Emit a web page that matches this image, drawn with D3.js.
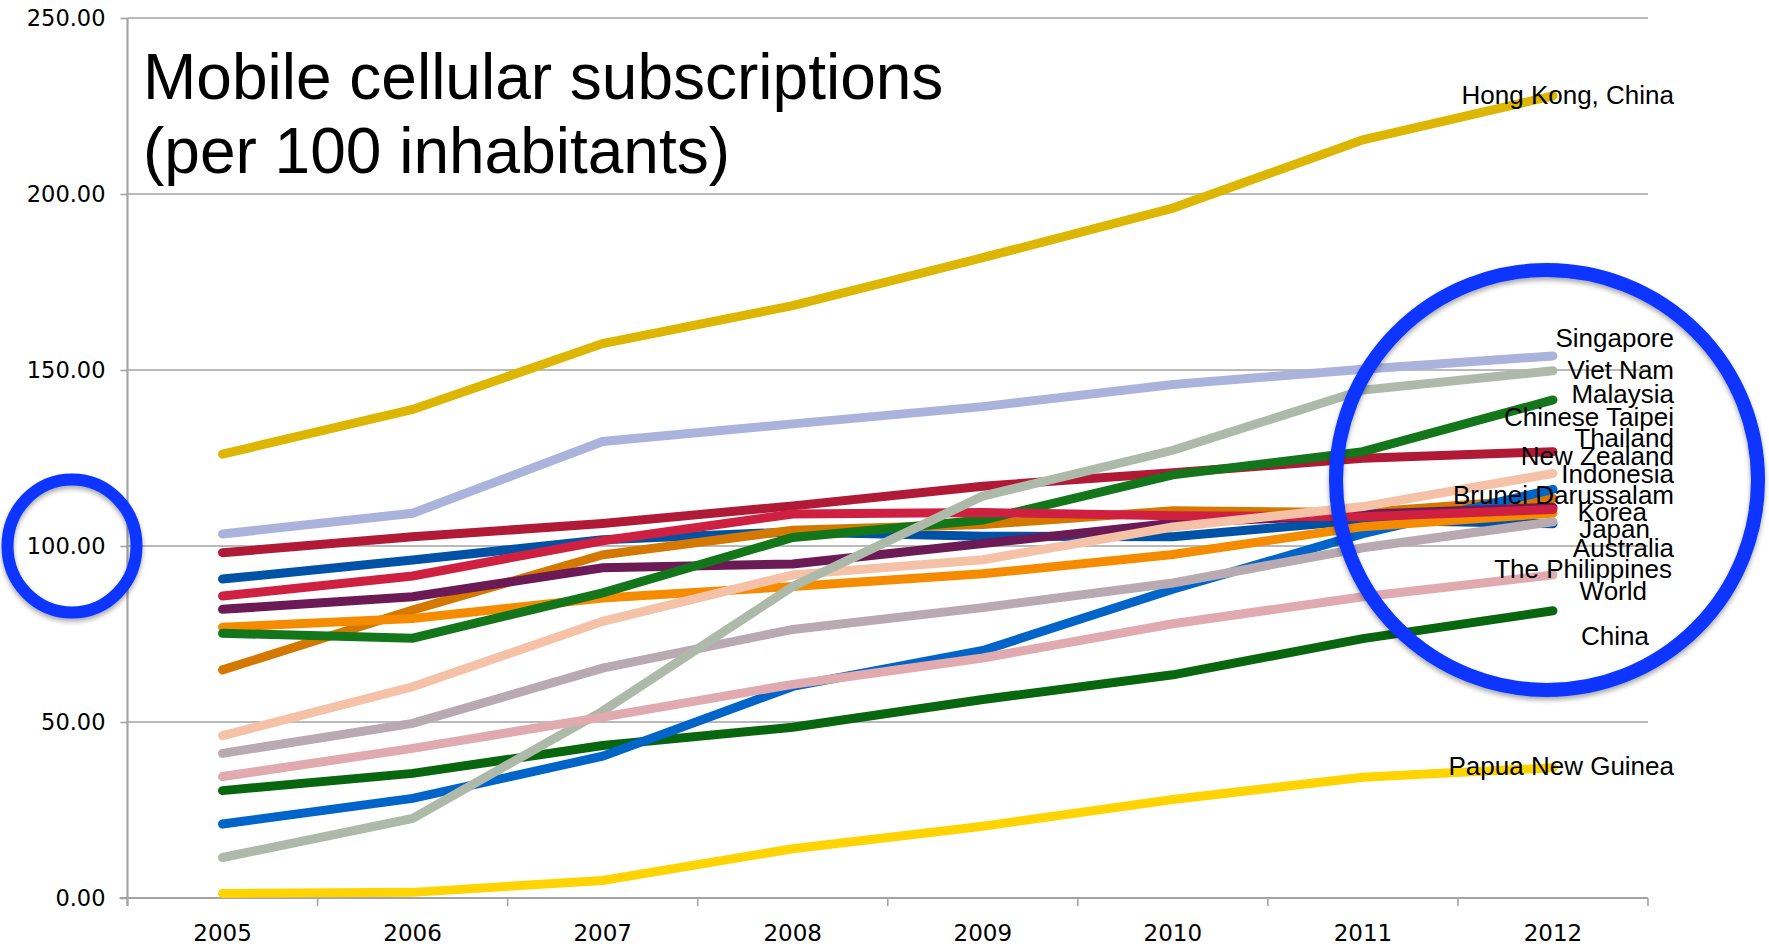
<!DOCTYPE html>
<html>
<head>
<meta charset="utf-8">
<script src="https://cdn.jsdelivr.net/npm/d3@7"></script>
<style>
  html, body { margin: 0; padding: 0; background: #ffffff; }
  svg { display: block; }
</style>
</head>
<body>
<svg id="chart" width="1769" height="946"></svg>
<script>
// ---------------- DATA ----------------
const years = ["2005", "2006", "2007", "2008", "2009", "2010", "2011", "2012"];
const yTicks = [0, 50, 100, 150, 200, 250];

const australia      = [90.6, 96.0, 101.8, 104.0, 102.8, 102.6, 107.4, 106.3];
const brunei         = [64.8, 81.8, 97.5, 104.5, 106.1, 110.0, 109.5, 113.5];
const china          = [30.5, 35.4, 43.3, 48.5, 56.4, 63.4, 73.7, 81.6];
const chineseTaipei  = [98.1, 102.6, 106.4, 111.4, 117.0, 120.8, 124.9, 126.8];
const hongKong       = [126.1, 138.8, 157.5, 168.3, 181.9, 196.0, 215.4, 227.9];
const indonesia      = [21.0, 28.3, 40.3, 60.1, 70.3, 87.7, 103.5, 116.1];
const japan          = [76.9, 79.4, 85.2, 88.5, 92.1, 97.6, 105.5, 109.3];
const korea          = [82.0, 85.6, 93.8, 94.9, 100.7, 106.5, 109.0, 111.0];
const malaysia       = [75.2, 73.8, 86.7, 102.4, 107.4, 120.2, 126.8, 141.5];
const newZealand     = [85.8, 91.5, 101.5, 109.1, 109.5, 108.6, 108.3, 110.4];
const papuaNewGuinea = [1.3, 1.6, 5.0, 14.0, 20.4, 28.0, 34.3, 37.0];
const philippines    = [41.1, 49.6, 65.3, 76.3, 82.5, 89.5, 99.5, 106.9];
const singapore      = [103.4, 109.3, 129.7, 134.7, 139.6, 145.9, 150.2, 154.0];
const thailand       = [46.1, 60.0, 78.6, 91.8, 96.1, 105.4, 111.2, 120.6];
const vietNam        = [11.5, 22.6, 53.1, 88.5, 114.2, 127.2, 144.3, 149.8];
const world          = [34.5, 42.5, 51.4, 60.7, 68.2, 77.9, 85.6, 91.8];

const seriesNames = ["Australia", "Brunei Darussalam", "China", "Chinese Taipei",
  "Hong Kong, China", "Indonesia", "Japan", "Korea", "Malaysia", "New Zealand",
  "Papua New Guinea", "The Philippines", "Singapore", "Thailand", "Viet Nam", "World"];
const seriesValues = [australia, brunei, china, chineseTaipei, hongKong, indonesia,
  japan, korea, malaysia, newZealand, papuaNewGuinea, philippines, singapore,
  thailand, vietNam, world];

const titleLines = ["Mobile cellular subscriptions", "(per 100 inhabitants)"];

// ---------------- STYLES ----------------
const colors = {
  "Australia": "#0052a6",
  "Brunei Darussalam": "#d47800",
  "China": "#07660e",
  "Chinese Taipei": "#b01a36",
  "Hong Kong, China": "#dcb600",
  "Indonesia": "#0064c8",
  "Japan": "#f58c00",
  "Korea": "#6c1a56",
  "Malaysia": "#13761a",
  "New Zealand": "#d02042",
  "Papua New Guinea": "#ffd400",
  "The Philippines": "#b9aab1",
  "Singapore": "#aab3dc",
  "Thailand": "#f5c2a8",
  "Viet Nam": "#aebaa9",
  "World": "#e0aaaf"
};

// label placement (right end x, baseline y) in pixels
const labelPos = {
  "Hong Kong, China": [1674, 104],
  "Singapore": [1674, 347],
  "Viet Nam": [1674, 379],
  "Malaysia": [1674, 403],
  "Chinese Taipei": [1674, 426],
  "Thailand": [1674, 447],
  "New Zealand": [1674, 465],
  "Indonesia": [1674, 483],
  "Brunei Darussalam": [1674, 504],
  "Korea": [1647, 521],
  "Japan": [1650, 538],
  "Australia": [1674, 557],
  "The Philippines": [1672, 578],
  "World": [1647, 600],
  "China": [1649, 645],
  "Papua New Guinea": [1674, 775]
};

// ---------------- CHART ----------------
const svg = d3.select("#chart");
const plotLeft = 127.5, plotRight = 1648, plotTop = 18, plotBottom = 898;

const xBand = d3.scaleBand().domain(years).range([plotLeft, plotRight]).paddingInner(0).paddingOuter(0);
const xc = d => xBand(d) + xBand.bandwidth() / 2;
const y = d3.scaleLinear().domain([0, 250]).range([plotBottom, plotTop]);

// gridlines
svg.append("g").selectAll("line")
  .data(yTicks.filter(d => d > 0))
  .join("line")
  .attr("x1", plotLeft).attr("x2", plotRight)
  .attr("y1", d => y(d)).attr("y2", d => y(d))
  .attr("stroke", "#a3a3a3").attr("stroke-width", 1.6);

// y axis
const yAxis = svg.append("g")
  .attr("transform", `translate(${plotLeft},0)`)
  .call(d3.axisLeft(y).tickValues(yTicks).tickFormat(d3.format(".2f")).tickSize(7).tickPadding(15));
yAxis.select(".domain").attr("stroke", "#a3a3a3").attr("stroke-width", 2.2)
  .attr("d", `M0,${y(250)}V${plotBottom + 8}`);
yAxis.selectAll(".tick line").attr("stroke", "#a3a3a3").attr("stroke-width", 1.6);
yAxis.selectAll(".tick text")
  .attr("font-family", "'DejaVu Sans', sans-serif")
  .attr("font-size", 22.5).attr("fill", "#000");

// x axis
const xAxis = svg.append("g")
  .attr("transform", `translate(0,${plotBottom})`)
  .call(d3.axisBottom(xBand).tickSize(0).tickPadding(0));
xAxis.select(".domain").attr("stroke", "#a3a3a3").attr("stroke-width", 2.2)
  .attr("d", `M${plotLeft - 8},0H${plotRight}`);
xAxis.selectAll(".tick text")
  .attr("font-family", "'DejaVu Sans', sans-serif")
  .attr("font-size", 23).attr("fill", "#000")
  .attr("dy", null).attr("y", 43);
// boundary ticks
xAxis.append("g").selectAll("line")
  .data(years.map(d => xBand(d)).concat([plotRight]))
  .join("line")
  .attr("x1", d => d).attr("x2", d => d)
  .attr("y1", 0).attr("y2", 8)
  .attr("stroke", "#a3a3a3").attr("stroke-width", 1.6);

// lines
const line = d3.line().x((d, i) => xc(years[i])).y(d => y(d));
svg.append("g").selectAll("path")
  .data(seriesNames.map((n, i) => ({ name: n, values: seriesValues[i] })))
  .join("path")
  .attr("d", d => line(d.values))
  .attr("fill", "none")
  .attr("stroke", d => colors[d.name])
  .attr("stroke-width", 9)
  .attr("stroke-linecap", "round")
  .attr("stroke-linejoin", "miter");

// title
const title = svg.append("text")
  .attr("font-family", "'Liberation Sans', Arial, Helvetica, sans-serif")
  .attr("font-size", 64).attr("fill", "#000");
title.selectAll("tspan").data(titleLines).join("tspan")
  .attr("x", 143)
  .attr("y", (d, i) => i === 0 ? 98.5 : 173)
  .text(d => d);

// end labels
svg.append("g").selectAll("text")
  .data(seriesNames)
  .join("text")
  .attr("x", d => labelPos[d][0])
  .attr("y", d => labelPos[d][1])
  .attr("text-anchor", "end")
  .attr("font-family", "'Liberation Sans', Arial, Helvetica, sans-serif")
  .attr("font-size", 26)
  .attr("fill", "#000")
  .text(d => d);

// highlight circles
const defs = svg.append("defs");
const f = defs.append("filter").attr("id", "shadow")
  .attr("x", "-20%").attr("y", "-20%").attr("width", "140%").attr("height", "140%");
f.append("feDropShadow").attr("dx", 0).attr("dy", 3).attr("stdDeviation", 2.5)
  .attr("flood-color", "#000").attr("flood-opacity", 0.35);

svg.append("ellipse")
  .attr("cx", 72).attr("cy", 546).attr("rx", 64.5).attr("ry", 66.5)
  .attr("fill", "none").attr("stroke", "#0836ff").attr("stroke-width", 12)
  .attr("filter", "url(#shadow)");
svg.append("ellipse")
  .attr("cx", 1547).attr("cy", 480).attr("rx", 211).attr("ry", 210)
  .attr("fill", "none").attr("stroke", "#0836ff").attr("stroke-width", 14)
  .attr("filter", "url(#shadow)");
</script>
</body>
</html>
